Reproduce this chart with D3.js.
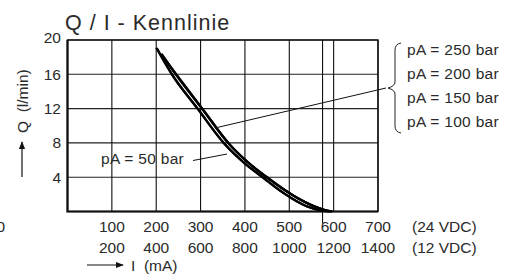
<!DOCTYPE html>
<html>
<head>
<meta charset="utf-8">
<script src="https://cdn.jsdelivr.net/npm/d3@7"></script>
<style>
  body { margin: 0; background: #fff; }
  text { font-family: "Liberation Sans", Arial, sans-serif; fill: #2a2a2a; }
</style>
</head>
<body>
<div class="chart"></div>
<script>
// tick labels
var xTicks24 = [100, 200, 300, 400, 500, 600, 700];
var xTicks12 = [200, 400, 600, 800, 1000, 1200, 1400];
var yTicks = [4, 8, 12, 16, 20];
var markerI = 575;

// legend
var pressures = [250, 200, 150, 100];

// curves, I (mA at 24 VDC) / Q (l/min)
var q50 = [[200, 19.1], [235, 16], [293, 12], [352, 8], [400, 5.6], [440, 4.0], [475, 2.6], [505, 1.55], [540, 0.6], [570, 0.15], [590, 0]];
var q100 = [[202, 19.0], [237, 15.9], [295, 11.9], [354, 7.9], [402, 5.5], [442, 3.9], [477, 2.5], [507, 1.5], [542, 0.55], [572, 0.12], [591, 0]];
var q150 = [[212, 18.4], [244, 16], [303, 12], [362, 8], [410, 5.6], [450, 4.0], [485, 2.7], [515, 1.7], [550, 0.75], [578, 0.2], [594, 0]];
var q200 = [[214, 18.2], [246, 15.9], [305, 11.9], [364, 7.9], [412, 5.5], [452, 3.9], [487, 2.6], [517, 1.6], [552, 0.7], [580, 0.18], [596, 0]];
var q250 = [[216, 18.0], [248, 15.8], [307, 11.8], [366, 7.8], [414, 5.4], [454, 3.8], [489, 2.5], [519, 1.55], [554, 0.65], [582, 0.15], [598, 0]];

var width = 513, height = 275;

var x = d3.scaleLinear().domain([0, 700]).range([67.5, 378]);
var x12 = d3.scaleLinear().domain([0, 1400]).range([67.5, 378]);
var y = d3.scaleLinear().domain([0, 20]).range([211.5, 40]);

var svg = d3.select(".chart").append("svg")
    .attr("width", width)
    .attr("height", height);

var defs = svg.append("defs");
defs.append("marker")
    .attr("id", "head")
    .attr("viewBox", "0 0 10 10")
    .attr("refX", 9).attr("refY", 5)
    .attr("markerWidth", 8).attr("markerHeight", 8)
    .attr("markerUnits", "userSpaceOnUse")
    .attr("orient", "auto")
  .append("path")
    .attr("d", "M0,1 L10,5 L0,9 Z")
    .style("fill", "#111");

// title
svg.append("text")
    .attr("x", 65).attr("y", 30)
    .style("font-size", "21.5px")
    .style("letter-spacing", "1px")
    .text("Q / I - Kennlinie");

// grid
var grid = svg.append("g");
grid.selectAll(".hl")
    .data(yTicks)
  .enter().append("line")
    .attr("x1", x(0)).attr("x2", x(700))
    .attr("y1", function(d) { return y(d); })
    .attr("y2", function(d) { return y(d); })
    .style("stroke", "#222").style("stroke-width", 1.1);

grid.selectAll(".vl")
    .data(xTicks24)
  .enter().append("line")
    .attr("x1", function(d) { return x(d); })
    .attr("x2", function(d) { return x(d); })
    .attr("y1", y(20)).attr("y2", y(0))
    .style("stroke", "#111").style("stroke-width", 1.1);

grid.append("line")
    .attr("x1", x(markerI)).attr("x2", x(markerI))
    .attr("y1", y(20)).attr("y2", y(0) + 12)
    .style("stroke", "#111").style("stroke-width", 1.1);

// frame
svg.append("rect")
    .attr("x", x(0)).attr("y", y(20))
    .attr("width", x(700) - x(0)).attr("height", y(0) - y(20))
    .style("fill", "none").style("stroke", "#111").style("stroke-width", 1.4);
svg.append("path")
    .attr("d", "M" + x(0) + "," + y(20) + "V" + y(0) + "H" + x(700))
    .style("fill", "none").style("stroke", "#111").style("stroke-width", 2.2);

// y tick labels
svg.selectAll(".yt")
    .data(yTicks)
  .enter().append("text")
    .attr("x", 61)
    .attr("y", function(d) { return y(d) + (d == 20 ? 3 : 5.5); })
    .attr("text-anchor", "end")
    .style("font-size", "15.5px")
    .text(function(d) { return d; });

// x tick labels, two rows
svg.selectAll(".xt1")
    .data(xTicks24)
  .enter().append("text")
    .attr("x", function(d) { return x(d); })
    .attr("y", 232)
    .attr("text-anchor", "middle")
    .style("font-size", "15.5px")
    .text(function(d) { return d; });
svg.selectAll(".xt2")
    .data(xTicks12)
  .enter().append("text")
    .attr("x", function(d) { return x12(d); })
    .attr("y", 253)
    .attr("text-anchor", "middle")
    .style("font-size", "15.5px")
    .text(function(d) { return d; });

svg.append("text").attr("x", 412).attr("y", 232).style("font-size", "15.5px").text("(24 VDC)");
svg.append("text").attr("x", 412).attr("y", 253).style("font-size", "15.5px").text("(12 VDC)");
svg.append("text").attr("x", 5).attr("y", 232).attr("text-anchor", "end").style("font-size", "15.5px").text("0");

// axis titles with arrows
svg.append("line")
    .attr("x1", 87).attr("y1", 265).attr("x2", 123).attr("y2", 265)
    .style("stroke", "#111").style("stroke-width", 1.2)
    .attr("marker-end", "url(#head)");
svg.append("text")
    .attr("x", 131).attr("y", 271)
    .style("font-size", "15.5px")
    .style("white-space", "pre")
    .text("I  (mA)");

svg.append("line")
    .attr("x1", 22).attr("y1", 177).attr("x2", 22).attr("y2", 142)
    .style("stroke", "#111").style("stroke-width", 1.2)
    .attr("marker-end", "url(#head)");
svg.append("text")
    .attr("transform", "translate(27.5,133) rotate(-90)")
    .style("font-size", "15.5px")
    .style("white-space", "pre")
    .text("Q  (l/min)");

// curves
var line = d3.line()
    .x(function(d) { return x(d[0]); })
    .y(function(d) { return y(d[1]); })
    .curve(d3.curveMonotoneX);

svg.selectAll(".curve")
    .data([q50, q100, q150, q200, q250])
  .enter().append("path")
    .attr("d", line)
    .style("fill", "none")
    .style("stroke", "#000")
    .style("stroke-width", 2.2);

// legend brace
svg.append("path")
    .attr("d", "M401,43 Q395,44 395,50 V82 Q395,86 388,88 Q395,90 395,94 V126 Q395,132 401,133")
    .style("fill", "none").style("stroke", "#222").style("stroke-width", 1);

svg.selectAll(".leg")
    .data(pressures)
  .enter().append("text")
    .attr("x", 407)
    .attr("y", function(d, i) { return 55 + i * 24; })
    .style("font-size", "15.5px")
    .style("letter-spacing", "0.3px")
    .text(function(d) { return "pA = " + d + " bar"; });

// leader lines
svg.append("line")
    .attr("x1", 386).attr("y1", 88).attr("x2", 215).attr("y2", 128)
    .style("stroke", "#111").style("stroke-width", 1);

svg.append("text")
    .attr("x", 101).attr("y", 164)
    .style("font-size", "15.5px")
    .style("letter-spacing", "0.3px")
    .text("pA = 50 bar");
svg.append("line")
    .attr("x1", 193).attr("y1", 160.5).attr("x2", 227).attr("y2", 154)
    .style("stroke", "#111").style("stroke-width", 1);
</script>
</body>
</html>
